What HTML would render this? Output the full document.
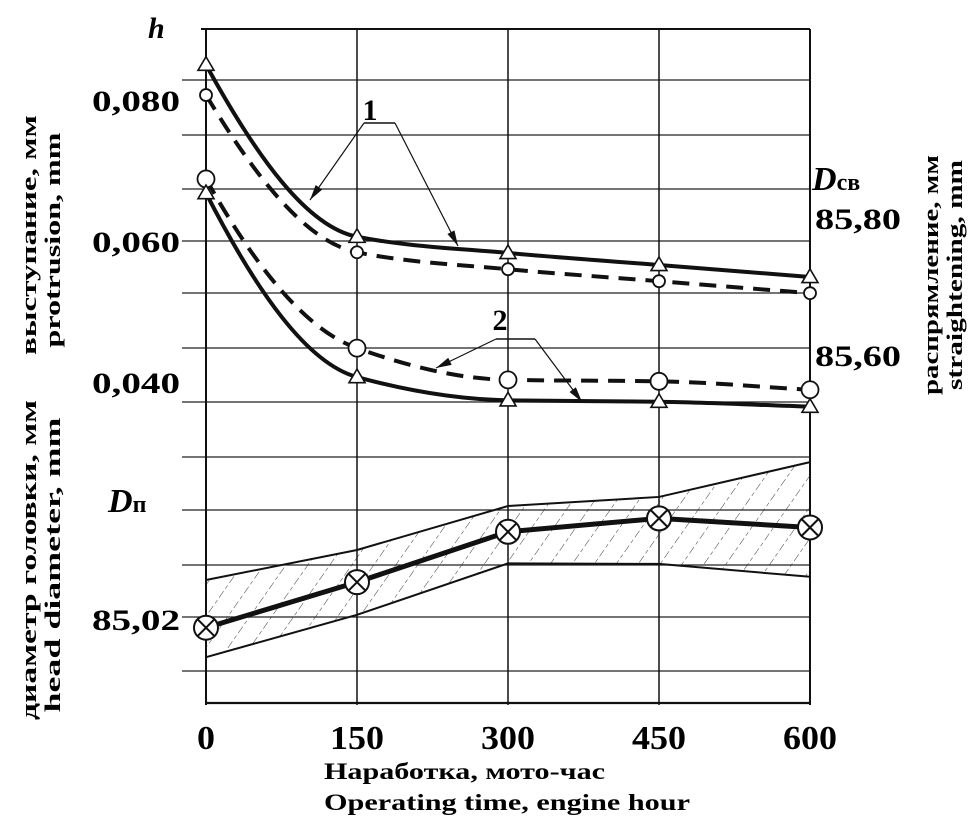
<!DOCTYPE html>
<html><head><meta charset="utf-8"><style>
html,body{margin:0;padding:0;background:#fff;}
svg{display:block;font-family:"Liberation Serif","DejaVu Serif",serif;font-weight:bold;}
</style></head><body>
<svg id="chart" width="980" height="825" viewBox="0 0 980 825" xmlns="http://www.w3.org/2000/svg">
<defs>
<pattern id="hatch" patternUnits="userSpaceOnUse" width="18" height="18" patternTransform="rotate(35)">
<line x1="0" y1="0" x2="0" y2="18" stroke="#222" stroke-width="0.9" stroke-dasharray="4,3"/>
</pattern>
</defs>
<g id="grid"></g>
<g id="band"></g>
<g id="series"></g>
<g id="annot">
<text x="370" y="120" font-size="30" text-anchor="middle">1</text>
<text x="500" y="330" font-size="30" text-anchor="middle">2</text>
</g>
<g id="labels">
<text x="148" y="38" font-size="30" font-style="italic">h</text>
<text x="812" y="190" font-size="34" font-style="italic">D<tspan font-size="24" font-style="normal">св</tspan></text>
<text x="108" y="512" font-size="34" font-style="italic">D<tspan font-size="24" font-style="normal">п</tspan></text>
<text transform="translate(36,235) rotate(-90)" font-size="22" text-anchor="middle" textLength="240" lengthAdjust="spacingAndGlyphs">выступание, мм</text>
<text transform="translate(60,240) rotate(-90)" font-size="22" text-anchor="middle" textLength="215" lengthAdjust="spacingAndGlyphs">protrusion, mm</text>
<text transform="translate(36,560) rotate(-90)" font-size="22" text-anchor="middle" textLength="320" lengthAdjust="spacingAndGlyphs">диаметр головки, мм</text>
<text transform="translate(60,565) rotate(-90)" font-size="22" text-anchor="middle" textLength="295" lengthAdjust="spacingAndGlyphs">head diameter, mm</text>
<text transform="translate(938,275) rotate(-90)" font-size="22" text-anchor="middle" textLength="240" lengthAdjust="spacingAndGlyphs">распрямление, мм</text>
<text transform="translate(962,275) rotate(-90)" font-size="22" text-anchor="middle" textLength="230" lengthAdjust="spacingAndGlyphs">straightening, mm</text>
<text x="324" y="779" font-size="23" textLength="281" lengthAdjust="spacingAndGlyphs">Наработка, мото-час</text>
<text x="324" y="810" font-size="23" textLength="366" lengthAdjust="spacingAndGlyphs">Operating time, engine hour</text>
</g>
</svg>
<script>
const categories = [0, 150, 300, 450, 600];
const hTicks = [0.080, 0.060, 0.040];
const dpTicks = [85.02];
const dsvTicks = ["85,80", "85,60"];
const series1Solid = [0.085, 0.0606, 0.0583, 0.0566, 0.0549];
const series1Dashed = [0.0807, 0.0584, 0.0560, 0.0543, 0.0526];
const series2Dashed = [0.0688, 0.0448, 0.0403, 0.0401, 0.0389];
const series2Solid = [0.0668, 0.0407, 0.0374, 0.0372, 0.0365];
const dpMean = [85.018, 85.0265, 85.0359, 85.0384, 85.0367];
const dpUpper = [85.0269, 85.0325, 85.0407, 85.0424, 85.0489];
const dpLower = [85.0125, 85.0204, 85.0300, 85.0299, 85.0275];

const NS = "http://www.w3.org/2000/svg";
const X0 = 206, X1 = 810;
function xs(v){ return X0 + (v - 0) / 600 * (X1 - X0); }
function yh(v){ return 241 - (v - 0.06) / 0.02 * 141; }
function yd(v){ return 617 - (v - 85.02) / 0.01 * 53.6; }
function mk(tag, attrs, parent){
  const e = document.createElementNS(NS, tag);
  for (const k in attrs) e.setAttribute(k, attrs[k]);
  parent.appendChild(e); return e;
}
const grid = document.getElementById('grid');
const band = document.getElementById('band');
const ser = document.getElementById('series');
const labels = document.getElementById('labels');

const hLines = [80, 135, 189, 241, 293, 348, 402, 457, 510, 565, 617, 671];
hLines.forEach(y => {
  const l = mk('line', {x1:182, x2:X1, y1:y, y2:y, stroke:'#222', 'stroke-width':1.3}, grid);
  
  
});
let t = mk('line', {x1:201, x2:X1, y1:29, y2:29, stroke:'#111', 'stroke-width':2}, grid);


t = mk('line', {x1:X0, x2:X1, y1:703, y2:703, stroke:'#111', 'stroke-width':2.2}, grid);


categories.forEach((c, i) => {
  const x = xs(c);
  const l = mk('line', {x1:x, x2:x, y1:29, y2:705, stroke:'#111', 'stroke-width': (i==0||i==4)?2:1.5}, grid);
  
  
  const tx = mk('text', {x:x, y:749, 'font-size':34, 'text-anchor':'middle', textLength: c==0?18:54, lengthAdjust:'spacingAndGlyphs'}, labels);
  tx.textContent = c;
  
  
});
hTicks.forEach(v => {
  const tx = mk('text', {x:180, y:yh(v)+11, 'font-size':30, 'text-anchor':'end', textLength:88, lengthAdjust:'spacingAndGlyphs'}, labels);
  tx.textContent = v.toFixed(3).replace('.', ',');
  
  
});
dpTicks.forEach(v => {
  const tx = mk('text', {x:180, y:yd(v)+13, 'font-size':30, 'text-anchor':'end', textLength:88, lengthAdjust:'spacingAndGlyphs'}, labels);
  tx.textContent = v.toFixed(2).replace('.', ',');
  
  
});
const dsvY = [229, 366];
dsvTicks.forEach((s, i) => {
  const tx = mk('text', {x:815, y:dsvY[i], 'font-size':30, textLength:86, lengthAdjust:'spacingAndGlyphs'}, labels);
  tx.textContent = s;
  
  
});

// monotone cubic (Fritsch-Carlson) – no overshoot
function smooth(pts){
  const n = pts.length, d = [], m = [];
  for (let i = 0; i < n-1; i++) d.push((pts[i+1][1]-pts[i][1])/(pts[i+1][0]-pts[i][0]));
  m[0] = d[0]; m[n-1] = d[n-2];
  for (let i = 1; i < n-1; i++) m[i] = (d[i-1]*d[i] <= 0) ? 0 : 2/(1/d[i-1] + 1/d[i]);
  // steeper start for decay curves
  m[0] = d[0] * 1.6;
  let s = 'M' + pts[0][0] + ',' + pts[0][1];
  for (let i = 0; i < n-1; i++){
    const h = (pts[i+1][0]-pts[i][0])/3;
    s += ' C' + (pts[i][0]+h) + ',' + (pts[i][1]+m[i]*h) + ' ' + (pts[i+1][0]-h) + ',' + (pts[i+1][1]-m[i+1]*h) + ' ' + pts[i+1][0] + ',' + pts[i+1][1];
  }
  return s;
}
function poly(pts){ return 'M' + pts.map(p => p.join(',')).join(' L'); }

const up = categories.map((c,i) => [xs(c), yd(dpUpper[i])]);
const lo = categories.map((c,i) => [xs(c), yd(dpLower[i])]);
let b = mk('path', {d: poly(up.concat(lo.slice().reverse())) + ' Z', fill:'url(#hatch)', stroke:'none'}, band);


b = mk('path', {d: poly(up), fill:'none', stroke:'#111', 'stroke-width':2}, band);


b = mk('path', {d: poly(lo), fill:'none', stroke:'#111', 'stroke-width':2}, band);



function drawSeries(vals, dashed, marker, name){
  const pts = categories.map((c,i) => [xs(c), yh(vals[i])]);
  const p = mk('path', {d: smooth(pts), fill:'none', stroke:'#111', 'stroke-width':4, 'stroke-dasharray': dashed ? '17,10' : 'none'}, ser);
  
  
  pts.forEach(pt => {
    let m;
    const big = name.indexOf('2') >= 0 && marker === 'circle';
    if (marker === 'circle') {
      m = mk('circle', {cx:pt[0], cy:pt[1], r: big ? 8.5 : 6, fill:'#fff', stroke:'#111', 'stroke-width':1.8}, ser);
    } else {
      const s = 8;
      m = mk('path', {d:'M'+pt[0]+','+(pt[1]-s)+' L'+(pt[0]+s)+','+(pt[1]+s*0.7)+' L'+(pt[0]-s)+','+(pt[1]+s*0.7)+' Z', fill:'#fff', stroke:'#111', 'stroke-width':1.6}, ser);
    }
    
    
  });
}
drawSeries(series1Dashed, true, 'circle', 'series1-dashed');
drawSeries(series1Solid, false, 'triangle', 'series1-solid');
drawSeries(series2Dashed, true, 'circle', 'series2-dashed');
drawSeries(series2Solid, false, 'triangle', 'series2-solid');

const mpts = categories.map((c,i) => [xs(c), yd(dpMean[i])]);
let mp = mk('path', {d: poly(mpts), fill:'none', stroke:'#111', 'stroke-width':5, 'stroke-linejoin':'round'}, ser);


mpts.forEach(pt => {
  const g = mk('g', {}, ser);
  
  
  mk('circle', {cx:pt[0], cy:pt[1], r:12, fill:'#fff', stroke:'#111', 'stroke-width':2}, g);
  const k = 8.5;
  mk('line', {x1:pt[0]-k, y1:pt[1]-k, x2:pt[0]+k, y2:pt[1]+k, stroke:'#111', 'stroke-width':2}, g);
  mk('line', {x1:pt[0]-k, y1:pt[1]+k, x2:pt[0]+k, y2:pt[1]-k, stroke:'#111', 'stroke-width':2}, g);
});

const annot = document.getElementById('annot');
function leader(bx1, bx2, by, targets, name){
  const l = mk('path', {d:'M'+bx1+','+by+' L'+bx2+','+by, stroke:'#111', 'stroke-width':1.4, fill:'none'}, annot);
  
  
  targets.forEach(tg => {
    const a = mk('line', {x1:tg[0], y1:tg[1], x2:tg[2], y2:tg[3], stroke:'#111', 'stroke-width':1.2}, annot);
    
    
    const ang = Math.atan2(tg[3]-tg[1], tg[2]-tg[0]);
    const L = 16, W = 0.25;
    const h = mk('path', {d:'M'+tg[2]+','+tg[3]+' L'+(tg[2]-L*Math.cos(ang-W))+','+(tg[3]-L*Math.sin(ang-W))+' L'+(tg[2]-L*Math.cos(ang+W))+','+(tg[3]-L*Math.sin(ang+W))+' Z', fill:'#111'}, annot);
    
    
  });
}
leader(364, 395, 123, [[364,123,310,200],[395,123,458,246]], 'label-1');
leader(496, 535, 339, [[496,339,436,368],[535,339,582,402]], 'label-2');
</script>
</body></html>
